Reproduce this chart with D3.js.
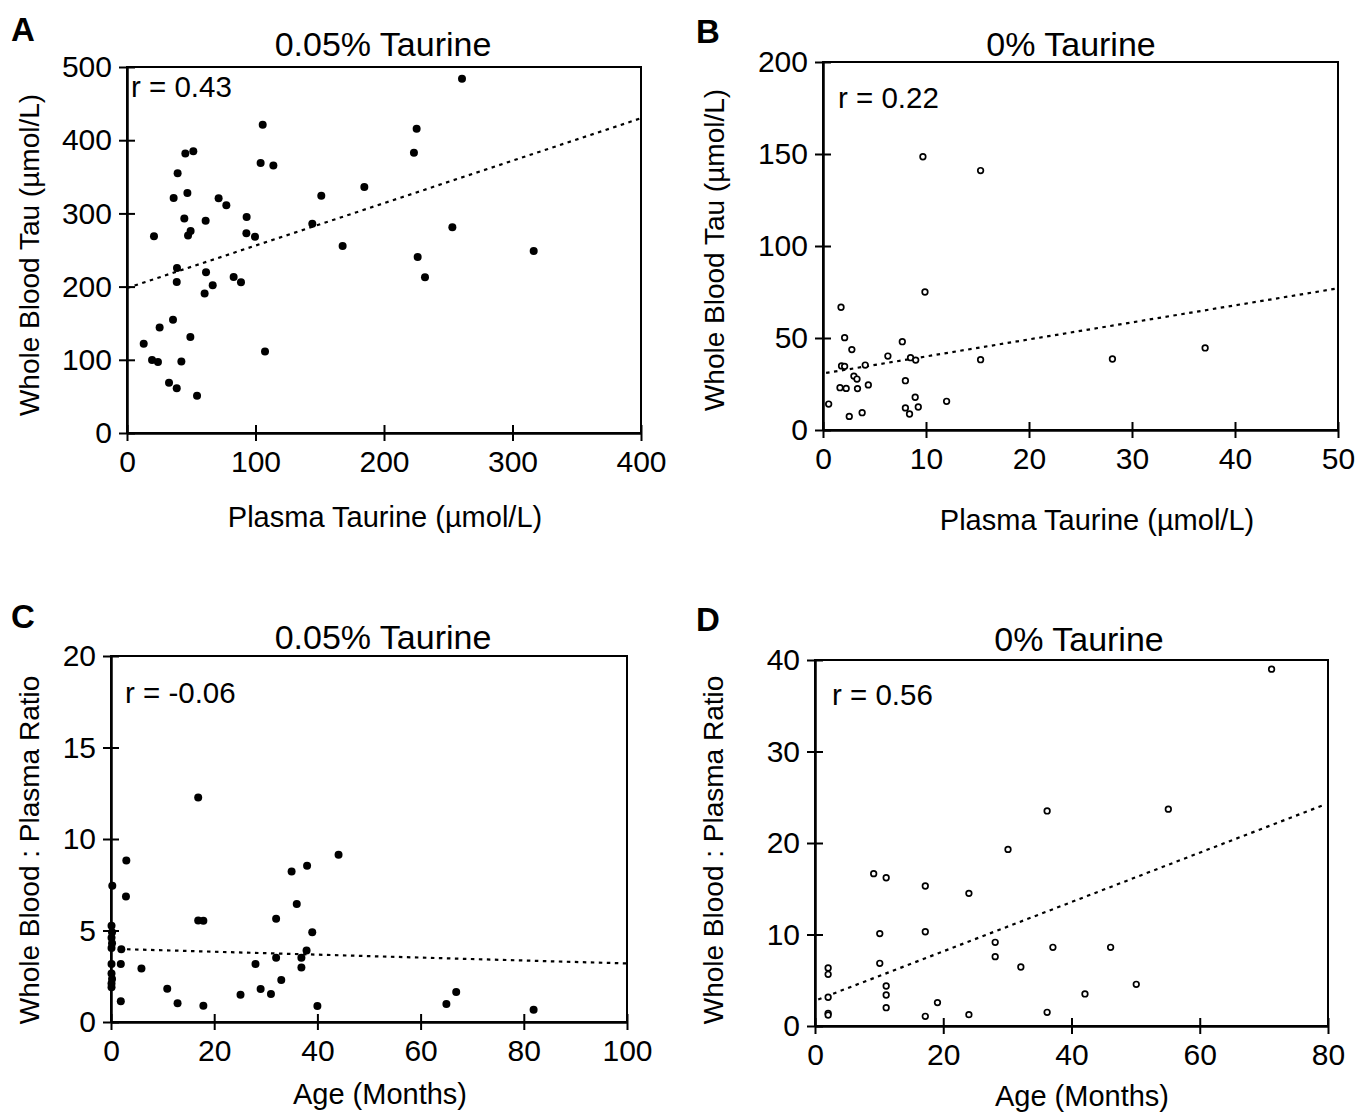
<!DOCTYPE html>
<html>
<head>
<meta charset="utf-8">
<script src="https://cdn.jsdelivr.net/npm/d3@7"></script>
<style>
  body { margin: 0; background: #fff; }
  text { font-family: "Liberation Sans", Arial, Helvetica, sans-serif; fill: #000; }
</style>
</head>
<body>
<svg id="chart" width="1357" height="1112"></svg>
<script>
// panel A - 0.05% taurine, plasma vs whole blood
var aPlasma = [105.6, 225.4, 45.4, 51.6, 223.3, 104, 113.9, 39.4, 184.7, 47, 36.3, 151.2, 71.3, 77.3, 44.6, 61.2,
    93.1, 144.2, 49.5, 47.5, 21, 92.9, 99.6, 167.8, 226.2, 38.9, 61.5, 38.7, 83, 88.7, 66.7, 60.4, 25.4, 35.8,
    13, 49.3, 19.5, 24.1, 42.3, 107.4, 32.7, 38.7, 54.5, 260.7, 253.2, 231.9, 316.5];
var aBlood = [421, 415.6, 382, 385, 383, 369, 365.6, 354.7, 336, 328, 321, 324, 320.6, 311, 293, 290,
    295, 286, 276, 269.7, 268.8, 273, 268, 255.5, 240.5, 225.5, 219.6, 206.4, 213, 206, 202, 190.5, 144, 154.6,
    122, 131, 99.6, 97, 97.8, 111.4, 68.7, 61, 51, 484, 281, 212.8, 248.7];
var aFitX = [0, 400];
var aFitY = [198, 430];

// panel B - 0% taurine, plasma vs whole blood
var bPlasma = [9.7, 15.3, 9.9, 1.75, 2.1, 7.7, 2.8, 6.3, 8.5, 9.0, 15.3, 1.8, 2.1, 4.1, 3.0, 3.3, 8.0, 4.4,
    1.65, 2.25, 3.35, 0.55, 12.0, 8.95, 9.25, 8.0, 8.4, 3.8, 2.55, 28.1, 37.1];
var bBlood = [148.5, 141, 75, 66.7, 50.2, 48, 43.7, 40.2, 39.3, 38, 38.2, 34.8, 34.6, 35.3, 29.3, 27.7, 26.8, 24.5,
    23, 22.6, 22.5, 14.1, 15.6, 17.8, 12.5, 12, 8.7, 9.4, 7.4, 38.6, 44.6];
var bFitX = [0.3, 50];
var bFitY = [31, 77];

// panel C - 0.05% taurine, age vs ratio
var cAge = [16.9, 44.1, 2.97, 38.0, 35.0, 0.25, 2.9, 36.0, 16.9, 17.9, 32.0, 39.0, 0.1, 0.2, 0.1, 0.2, 0.1, 2.0,
    37.9, 36.9, 32.0, 28.0, 1.9, 0.1, 5.9, 36.9, 0.1, 0.2, 0.1, 0.1, 33.0, 10.9, 29.0, 31.0, 25.1, 1.9, 12.9,
    17.9, 40.0, 66.9, 65.0, 81.9];
var cRatio = [12.27, 9.14, 8.83, 8.54, 8.23, 7.45, 6.86, 6.45, 5.55, 5.53, 5.64, 4.9, 5.26, 4.9, 4.6, 4.3, 4.05, 3.97,
    3.91, 3.51, 3.51, 3.17, 3.17, 3.17, 2.93, 2.98, 2.65, 2.35, 2.1, 1.9, 2.29, 1.82, 1.8, 1.53, 1.49, 1.13, 1.02,
    0.89, 0.87, 1.64, 0.98, 0.67];
var cFitX = [0, 100];
var cFitY = [4.0, 3.2];

// panel D - 0% taurine, age vs ratio
var dAge = [36.2, 30.1, 9.15, 11.1, 17.2, 24.0, 10.1, 17.2, 28.1, 28.1, 37.1, 32.1, 10.1, 2.05, 2.05, 11.1, 11.1,
    2.05, 11.1, 19.1, 2.05, 2.05, 17.2, 24.0, 36.2, 71.2, 55.1, 46.1, 50.1, 42.1];
var dRatio = [23.5, 19.3, 16.65, 16.2, 15.3, 14.5, 10.1, 10.3, 9.15, 7.58, 8.6, 6.45, 6.85, 6.34, 5.65, 4.37, 3.39,
    3.14, 2.0, 2.56, 1.39, 1.2, 1.06, 1.24, 1.5, 39.0, 23.7, 8.6, 4.56, 3.5];
var dFitX = [0.5, 79.5];
var dFitY = [2.9, 24.2];

// tick values
var taurineTicksA = [0, 100, 200, 300, 400];
var bloodTicksA = [0, 100, 200, 300, 400, 500];
var taurineTicksB = [0, 10, 20, 30, 40, 50];
var bloodTicksB = [0, 50, 100, 150, 200];
var ageTicksC = [0, 20, 40, 60, 80, 100];
var ratioTicksC = [0, 5, 10, 15, 20];
var ageTicksD = [0, 20, 40, 60, 80];
var ratioTicksD = [0, 10, 20, 30, 40];

var svg = d3.select("#chart");

function drawPanel(p) {
    var g = svg.append("g");
    var x = d3.scaleLinear().domain(p.xDomain).range([p.left, p.right]);
    var y = d3.scaleLinear().domain(p.yDomain).range([p.bottom, p.top]);

    // ticks cross the axis: outer half has labels, inner half none
    var xAxis = g.append("g").attr("transform", "translate(0," + p.bottom + ")")
        .call(d3.axisBottom(x).tickValues(p.xTicks).tickSizeInner(8).tickSizeOuter(0).tickPadding(10));
    g.append("g").attr("transform", "translate(0," + p.bottom + ")")
        .call(d3.axisBottom(x).tickValues(p.xTicks).tickSizeInner(-8).tickSizeOuter(0).tickFormat(""));
    var yAxis = g.append("g").attr("transform", "translate(" + p.left + ",0)")
        .call(d3.axisLeft(y).tickValues(p.yTicks).tickSizeInner(8).tickSizeOuter(0).tickPadding(7));
    g.append("g").attr("transform", "translate(" + p.left + ",0)")
        .call(d3.axisLeft(y).tickValues(p.yTicks).tickSizeInner(-8).tickSizeOuter(0).tickFormat(""));

    g.selectAll(".tick line, .domain").attr("stroke", "#000").attr("stroke-width", 2);
    xAxis.selectAll("text").attr("font-size", 30);
    yAxis.selectAll("text").attr("font-size", 30);

    // frame
    g.append("rect")
        .attr("x", p.left).attr("y", p.top)
        .attr("width", p.right - p.left).attr("height", p.bottom - p.top)
        .attr("fill", "none").attr("stroke", "#000").attr("stroke-width", 2);

    // regression line
    var fit = p.fitX.map(function(v, i) { return [v, p.fitY[i]]; });
    g.append("path")
        .attr("d", d3.line().x(function(d) { return x(d[0]); }).y(function(d) { return y(d[1]); })(fit))
        .attr("fill", "none").attr("stroke", "#000")
        .attr("stroke-width", 2.2).attr("stroke-dasharray", "3.5,4.5");

    // points
    g.selectAll("circle.pt").data(p.xs).enter().append("circle")
        .attr("class", "pt")
        .attr("cx", function(d) { return x(d); })
        .attr("cy", function(d, i) { return y(p.ys[i]); })
        .attr("r", p.open ? 2.8 : 4)
        .attr("fill", p.open ? "#fff" : "#000")
        .attr("stroke", "#000")
        .attr("stroke-width", p.open ? 1.7 : 0);

    // texts
    g.append("text").attr("x", p.letter[0]).attr("y", p.letter[1])
        .attr("font-size", 33).attr("font-weight", "bold").text(p.letterText);
    g.append("text").attr("x", p.title[0]).attr("y", p.title[1])
        .attr("font-size", 34).attr("text-anchor", "middle").text(p.titleText);
    g.append("text").attr("x", p.rPos[0]).attr("y", p.rPos[1])
        .attr("font-size", 29.5).text(p.rText);
    g.append("text").attr("x", p.xLab[0]).attr("y", p.xLab[1])
        .attr("font-size", 29).attr("text-anchor", "middle").text(p.xLabText);
    g.append("text")
        .attr("transform", "translate(" + p.yLab[0] + "," + p.yLab[1] + ") rotate(-90)")
        .attr("font-size", 28).attr("text-anchor", "middle").text(p.yLabText);
}

drawPanel({
    left: 127, right: 641, top: 67, bottom: 433,
    xDomain: [0, 400], yDomain: [0, 500], xTicks: taurineTicksA, yTicks: bloodTicksA,
    xs: aPlasma, ys: aBlood, fitX: aFitX, fitY: aFitY, open: false,
    letter: [11, 41], letterText: "A",
    title: [383, 56], titleText: "0.05% Taurine",
    rPos: [131, 97], rText: "r = 0.43",
    xLab: [385, 527], xLabText: "Plasma Taurine (\u00b5mol/L)",
    yLab: [39, 255], yLabText: "Whole Blood Tau (\u00b5mol/L)"
});

drawPanel({
    left: 823, right: 1338, top: 62, bottom: 430,
    xDomain: [0, 50], yDomain: [0, 200], xTicks: taurineTicksB, yTicks: bloodTicksB,
    xs: bPlasma, ys: bBlood, fitX: bFitX, fitY: bFitY, open: true,
    letter: [696, 43], letterText: "B",
    title: [1071, 56], titleText: "0% Taurine",
    rPos: [838, 108], rText: "r = 0.22",
    xLab: [1097, 530], xLabText: "Plasma Taurine (\u00b5mol/L)",
    yLab: [724, 250], yLabText: "Whole Blood Tau (\u00b5mol/L)"
});

drawPanel({
    left: 111, right: 627, top: 656, bottom: 1022,
    xDomain: [0, 100], yDomain: [0, 20], xTicks: ageTicksC, yTicks: ratioTicksC,
    xs: cAge, ys: cRatio, fitX: cFitX, fitY: cFitY, open: false,
    letter: [11, 628], letterText: "C",
    title: [383, 649], titleText: "0.05% Taurine",
    rPos: [125, 703], rText: "r = -0.06",
    xLab: [380, 1104], xLabText: "Age (Months)",
    yLab: [39, 850], yLabText: "Whole Blood : Plasma Ratio"
});

drawPanel({
    left: 815, right: 1328, top: 660, bottom: 1026,
    xDomain: [0, 80], yDomain: [0, 40], xTicks: ageTicksD, yTicks: ratioTicksD,
    xs: dAge, ys: dRatio, fitX: dFitX, fitY: dFitY, open: true,
    letter: [696, 631], letterText: "D",
    title: [1079, 651], titleText: "0% Taurine",
    rPos: [832, 705], rText: "r = 0.56",
    xLab: [1082, 1106], xLabText: "Age (Months)",
    yLab: [723, 850], yLabText: "Whole Blood : Plasma Ratio"
});
</script>
</body>
</html>
